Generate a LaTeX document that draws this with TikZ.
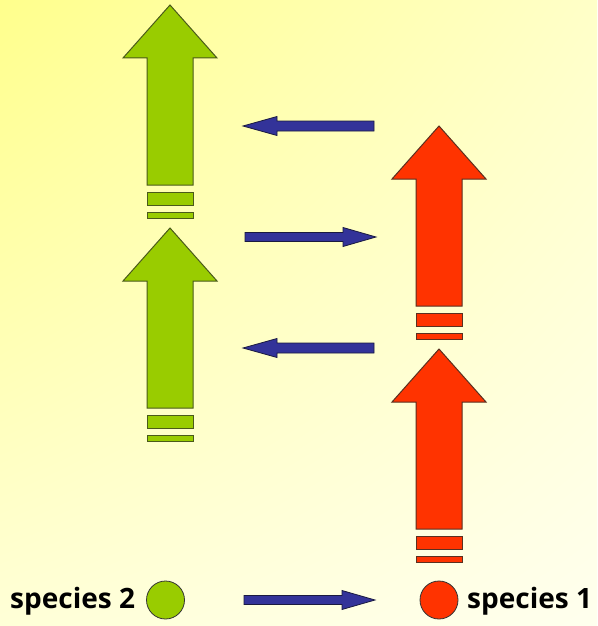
\documentclass[tikz,border=0pt]{standalone}
\usepackage{fontspec}
\setmainfont{Open Sans}
\usetikzlibrary{shadings}
\definecolor{sp2}{HTML}{99CC00}
\definecolor{sp2line}{HTML}{4A5A1A}
\definecolor{sp1}{HTML}{FF3300}
\definecolor{sp1line}{HTML}{5A3020}
\definecolor{flow}{HTML}{333399}
\definecolor{flowline}{HTML}{1A1A40}
\definecolor{bgul}{RGB}{255,255,140}
\definecolor{bgur}{RGB}{255,255,200}
\definecolor{bgll}{RGB}{255,255,215}
\definecolor{bglr}{RGB}{255,255,238}
\tikzset{
  pics/uparrow/.style={code={
    \draw[pic actions] (0,0) -- (47,53) -- (23,53) -- (23,180) -- (-23,180) -- (-23,53) -- (-47,53) -- cycle;
    \draw[pic actions] (-23,187) rectangle (23,200);
    \draw[pic actions] (-23,207) rectangle (23,213);
  }},
  pics/leftflow/.style={code={
    \draw[pic actions] (0,0) -- (34,-9.5) -- (34,-5) -- (131,-5) -- (131,5) -- (34,5) -- (34,9.5) -- cycle;
  }},
  pics/rightflow/.style={code={
    \draw[pic actions] (0,0) -- (-33,-9.5) -- (-33,-4.5) -- (-131,-4.5) -- (-131,4.5) -- (-33,4.5) -- (-33,9.5) -- cycle;
  }},
  greenarrow/.style={fill=sp2, draw=sp2line, line width=1pt, line join=miter},
  redarrow/.style={fill=sp1, draw=sp1line, line width=1pt, line join=miter},
  bluearrow/.style={fill=flow, draw=flowline, line width=0.8pt, line join=miter},
  legendtext/.style={font=\fontsize{28}{30}\selectfont\bfseries, inner sep=0pt, text=black},
  legenddot/.style={circle, minimum size=38pt, inner sep=0pt, draw=black!80, line width=0.8pt}
}
\begin{document}
\begin{tikzpicture}[x=1pt,y=-1pt]
  \useasboundingbox (0,0) rectangle (597,626);
  \shade[upper left=bgul, upper right=bgur, lower left=bgll, lower right=bglr]
    (0,0) rectangle (597,626);

  % species 2 (green) arrows
  \pic[greenarrow] (g1) at (170,5) {uparrow};
  \pic[greenarrow] (g2) at (170,228) {uparrow};
  % species 1 (red) arrows
  \pic[redarrow] (r1) at (439,126) {uparrow};
  \pic[redarrow] (r2) at (439,349) {uparrow};

  % flow arrows
  \pic[bluearrow] (f1) at (243,126) {leftflow};
  \pic[bluearrow] (f2) at (376,237) {rightflow};
  \pic[bluearrow] (f3) at (243,348) {leftflow};
  \pic[bluearrow] (f4) at (375,600) {rightflow};

  % legend
  \node[legendtext, anchor=base west] (t2) at (10,608) {species 2};
  \node[legenddot, fill=sp2] (c2) at (165.5,600) {};
  \node[legenddot, fill=sp1] (c1) at (439,600) {};
  \node[legendtext, anchor=base west] (t1) at (467,608) {species 1};
\end{tikzpicture}
\end{document}
